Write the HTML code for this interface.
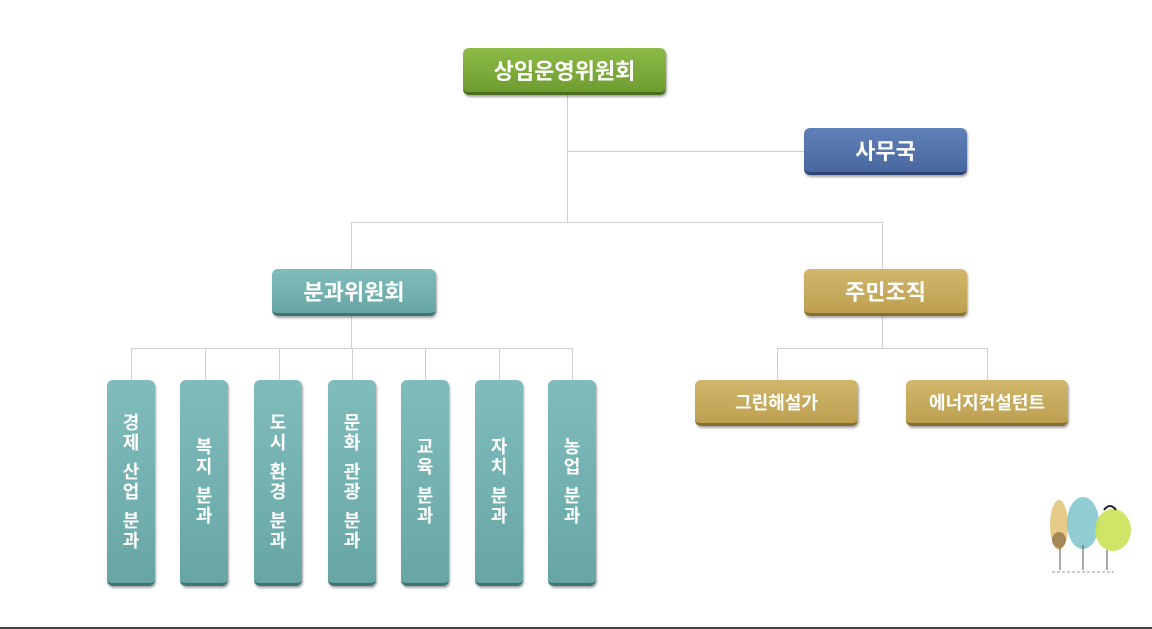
<!DOCTYPE html>
<html><head><meta charset="utf-8"><style>
body{margin:0;width:1152px;height:629px;background:#fff;position:relative;overflow:hidden;font-family:"Liberation Sans","Noto Sans CJK KR","NanumGothic",sans-serif;}
.b{position:absolute;border-radius:6px;color:#fff;display:flex;align-items:center;justify-content:center;box-sizing:border-box;box-shadow:1px 2px 2px rgba(0,0,0,.35);font-weight:bold;}
.l{position:absolute;background:#cfcfcf;}
.g{background:linear-gradient(#8cbb48,#6f9c30);border-bottom:3px solid #4d6e1f;font-size:22px;}
.bl{background:linear-gradient(#5f80b8,#4a689f);border-bottom:3px solid #2f4674;font-size:22px;}
.t{background:linear-gradient(#80bcbc,#68a6a6);border-bottom:3px solid #3f7474;}
.y{background:linear-gradient(#d1b66c,#bda050);border-bottom:3px solid #86702f;}
.v{flex-direction:column;font-size:18px;width:48px;top:380px;height:206px;}
.v span{display:block;line-height:20px;height:20px}
.v i{display:block;height:9px}
</style></head><body>
<div class="l" style="left:567px;top:94px;width:1px;height:128px"></div>
<div class="l" style="left:568px;top:151px;width:236px;height:1px"></div>
<div class="l" style="left:351px;top:222px;width:532px;height:1px"></div>
<div class="l" style="left:351px;top:222px;width:1px;height:48px"></div>
<div class="l" style="left:882px;top:222px;width:1px;height:48px"></div>
<div class="l" style="left:351px;top:315px;width:1px;height:33px"></div>
<div class="l" style="left:131px;top:348px;width:442px;height:1px"></div>
<div class="l" style="left:882px;top:315px;width:1px;height:33px"></div>
<div class="l" style="left:777px;top:348px;width:211px;height:1px"></div>
<div class="l" style="left:777px;top:348px;width:1px;height:32px"></div>
<div class="l" style="left:987px;top:348px;width:1px;height:32px"></div>
<div class="l" style="left:131px;top:348px;width:1px;height:32px"></div>
<div class="l" style="left:205px;top:348px;width:1px;height:32px"></div>
<div class="l" style="left:279px;top:348px;width:1px;height:32px"></div>
<div class="l" style="left:352px;top:348px;width:1px;height:32px"></div>
<div class="l" style="left:425px;top:348px;width:1px;height:32px"></div>
<div class="l" style="left:499px;top:348px;width:1px;height:32px"></div>
<div class="l" style="left:572px;top:348px;width:1px;height:32px"></div>

<div class="b g" style="left:463px;top:48px;width:203px;height:47px">상임운영위원회</div>
<div class="b bl" style="left:804px;top:128px;width:163px;height:47px">사무국</div>
<div class="b t" style="left:272px;top:269px;width:164px;height:47px;font-size:22px">분과위원회</div>
<div class="b y" style="left:804px;top:269px;width:163px;height:47px;font-size:22px">주민조직</div>
<div class="b y" style="left:695px;top:380px;width:163px;height:46px;font-size:18px">그린해설가</div>
<div class="b y" style="left:906px;top:380px;width:162px;height:46px;font-size:18px">에너지컨설턴트</div>

<div class="b t v" style="left:107px"><span>경</span><span>제</span><i></i><span>산</span><span>업</span><i></i><span>분</span><span>과</span></div>
<div class="b t v" style="left:180px"><span>복</span><span>지</span><i></i><span>분</span><span>과</span></div>
<div class="b t v" style="left:254px"><span>도</span><span>시</span><i></i><span>환</span><span>경</span><i></i><span>분</span><span>과</span></div>
<div class="b t v" style="left:328px"><span>문</span><span>화</span><i></i><span>관</span><span>광</span><i></i><span>분</span><span>과</span></div>
<div class="b t v" style="left:401px"><span>교</span><span>육</span><i></i><span>분</span><span>과</span></div>
<div class="b t v" style="left:475px"><span>자</span><span>치</span><i></i><span>분</span><span>과</span></div>
<div class="b t v" style="left:548px"><span>농</span><span>업</span><i></i><span>분</span><span>과</span></div>

<svg style="position:absolute;left:1040px;top:490px" width="100" height="100">
<ellipse cx="19" cy="35" rx="9" ry="25" fill="#e3c274" opacity=".85"/>
<ellipse cx="19" cy="50" rx="7" ry="8" fill="#8a6b43" opacity=".7"/>
<ellipse cx="43" cy="33" rx="16" ry="26" fill="#7cc3c9" opacity=".85"/>
<ellipse cx="73" cy="40" rx="18" ry="21" fill="#c9e256" opacity=".9"/>
<path d="M20 58V80M43 55V80M67 60V80" stroke="#555" stroke-width="1"/>
<path d="M64 20q6-8 12 0" stroke="#222" stroke-width="2" fill="none"/>
<path d="M12 82h62" stroke="#999" stroke-width="1" stroke-dasharray="3 2"/>
</svg>
<div style="position:absolute;left:0;top:627px;width:1152px;height:2px;background:#444"></div>
</body></html>
